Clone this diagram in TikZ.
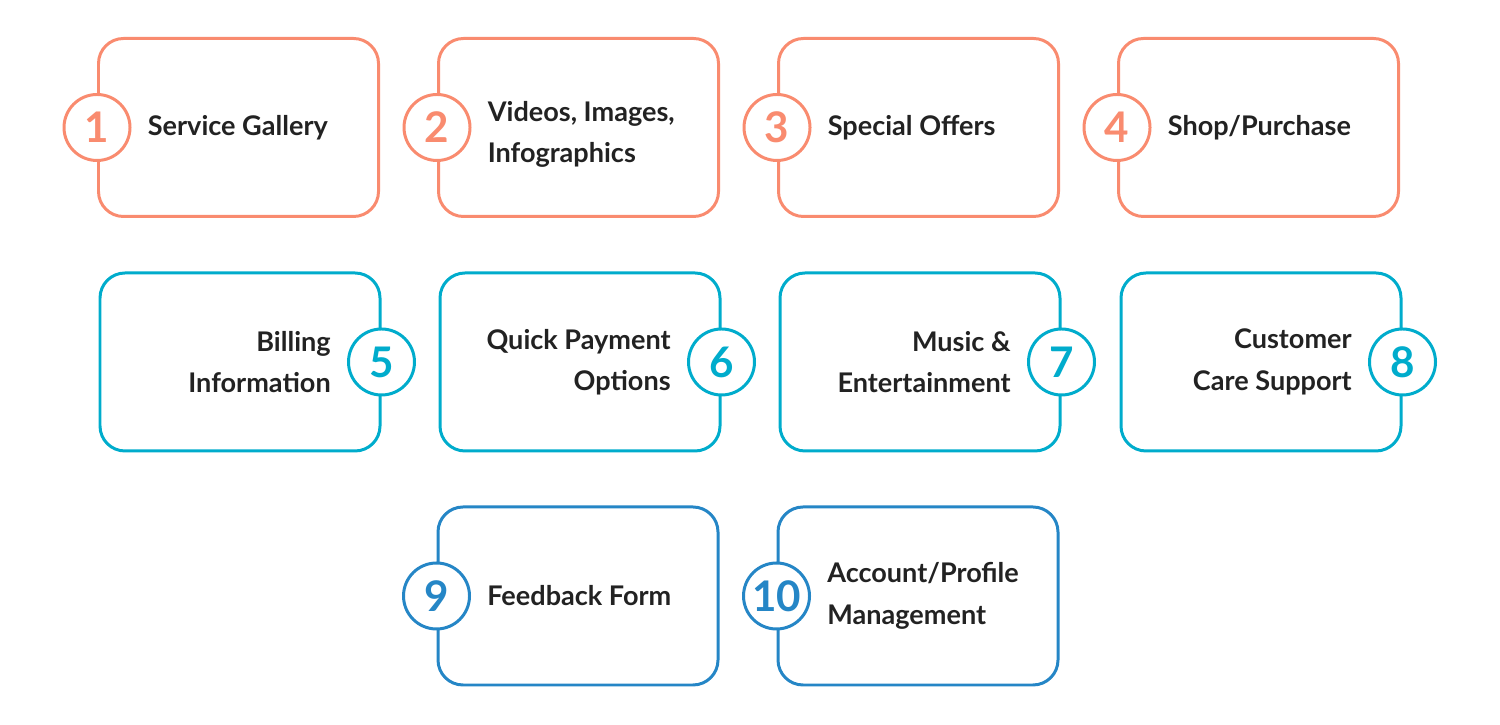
\documentclass[tikz,border=0pt]{standalone}
\usepackage{fontspec}
\setmainfont{Lato}
\usepackage{tikz}
\usetikzlibrary{positioning}

\definecolor{salmon}{HTML}{F98B6F}
\definecolor{teal}{HTML}{00ACCC}
\definecolor{ocean}{HTML}{2586C6}
\definecolor{ink}{HTML}{222222}

\begin{document}
\begin{tikzpicture}[
    card/.style={draw=#1, line width=1.7pt, rounded corners=0.5cm,
        minimum width=5.6cm, minimum height=3.56cm},
    badge/.style={draw=#1, circle, fill=white, line width=1.7pt,
        minimum size=1.32cm, inner sep=0pt, text=#1,
        font=\bfseries\fontsize{24}{24}\selectfont},
    label/.style={font=\bfseries\fontsize{15.4}{23.5}\selectfont, text=ink,
        inner sep=0pt}
]
    \useasboundingbox (0, 0) rectangle (30, 14.5);

    % row 1
    \foreach \x [count=\i] in {4.77, 11.57, 18.37, 25.17} {
        \node [card=salmon] (c\i) at (\x, 11.95) {};
        \node [badge=salmon] (n\i) at (c\i.west) {\i};
    }
    \node [label, align=left, right=0.32cm of n1] (t1) {Service Gallery};
    \node [label, align=left, right=0.32cm of n2, yshift=-0.14cm] (t2) {Videos, Images,\\Infographics};
    \node [label, align=left, right=0.32cm of n3] (t3) {Special Offers};
    \node [label, align=left, right=0.32cm of n4] (t4) {Shop/Purchase};

    % row 2
    \foreach \x [count=\i from 5] in {4.8, 11.6, 18.4, 25.22} {
        \node [card=teal] (c\i) at (\x, 7.26) {};
        \node [badge=teal] (n\i) at (c\i.east) {\i};
    }
    \node [label, align=right, left=0.32cm of n5] (t5) {Billing\\Information};
    \node [label, align=right, left=0.32cm of n6] (t6) {Quick Payment\\Options};
    \node [label, align=right, left=0.32cm of n7] (t7) {Music \&\\Entertainment};
    \node [label, align=right, left=0.32cm of n8] (t8) {Customer\\Care Support};

    % row 3
    \foreach \x [count=\i from 9] in {11.56, 18.36} {
        \node [card=ocean] (c\i) at (\x, 2.58) {};
        \node [badge=ocean] (n\i) at (c\i.west) {\i};
    }
    \node [label, align=left, right=0.32cm of n9] (t9) {Feedback Form};
    \node [label, align=left, right=0.32cm of n10] (t10) {Account/Profile\\Management};

\end{tikzpicture}
\end{document}
